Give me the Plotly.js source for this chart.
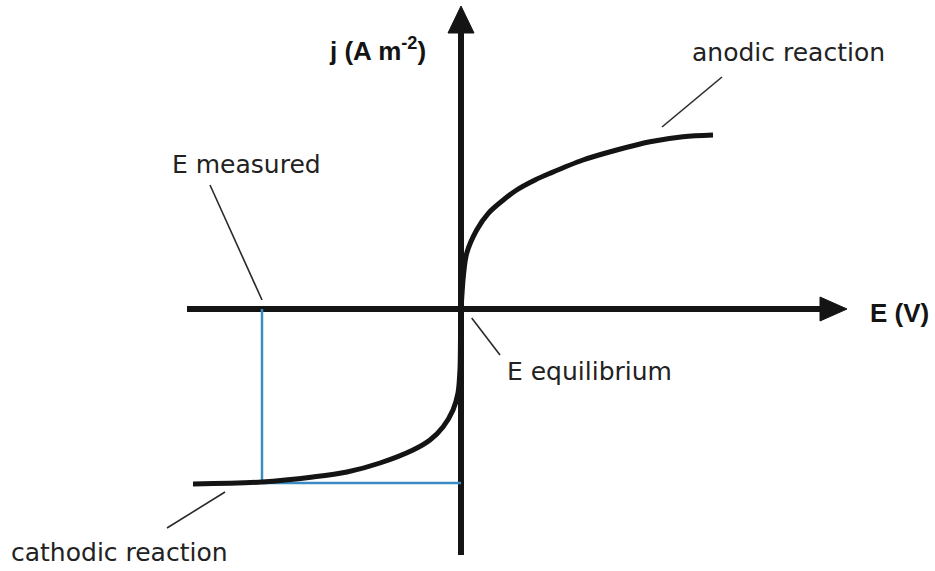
<!DOCTYPE html>
<html>
<head>
<meta charset="utf-8">
<script src="https://cdn.plot.ly/plotly-3.0.1.min.js"></script>
<style>
  html, body { margin: 0; padding: 0; background: #fff; }
  #chart { width: 935px; height: 571px; }
</style>
</head>
<body>
<div id="chart"></div>
<script>
// Polarisation curve: current density j against electrode potential E
// (arbitrary units, origin at the equilibrium potential).
const anodicE = [0, 0.008, 0.023, 0.057, 0.157, 0.273, 0.423, 0.557, 0.74, 0.89, 1.22, 1.557, 1.89, 2.22, 2.52];
const anodicJ = [0, 0.12, 0.32, 0.557, 0.79, 0.957, 1.09, 1.19, 1.29, 1.357, 1.49, 1.59, 1.673, 1.723, 1.74];

const cathodicE = [0, -0.005, -0.01, -0.03, -0.08, -0.18, -0.31, -0.48, -0.81, -1.14, -1.48, -1.99, -2.68];
const cathodicJ = [0, -0.3, -0.6, -0.84, -1.01, -1.18, -1.31, -1.41, -1.54, -1.63, -1.68, -1.73, -1.75];

// Measured operating point on the cathodic branch
const eMeasured = -1.99;
const jMeasured = -1.74;

const labels = {
  jAxis: 'j (A m<sup>-2</sup>)',
  eAxis: 'E (V)',
  eMeasured: 'E measured',
  eEquilibrium: 'E equilibrium',
  anodic: 'anodic reaction',
  cathodic: 'cathodic reaction'
};

const ink = '#141414';
const blue = '#3b8cc2';
const leader = '#2a2a2a';

const traces = [
  { x: [eMeasured, eMeasured], y: [0, jMeasured], mode: 'lines',
    line: { color: blue, width: 2.5 }, hoverinfo: 'skip' },
  { x: [eMeasured, 0], y: [jMeasured, jMeasured], mode: 'lines',
    line: { color: blue, width: 2.5 }, hoverinfo: 'skip' },
  { x: anodicE, y: anodicJ, mode: 'lines',
    line: { color: ink, width: 5, shape: 'spline', smoothing: 0.9 } },
  { x: cathodicE, y: cathodicJ, mode: 'lines',
    line: { color: ink, width: 5, shape: 'spline', smoothing: 0.9 } }
];

function seg(x0, y0, x1, y1, color, width) {
  return { type: 'line', xref: 'x', yref: 'y', x0, y0, x1, y1,
           line: { color, width }, layer: 'below' };
}

const shapes = [
  // axes
  seg(-2.74, 0, 3.70, 0, ink, 6),
  seg(0, -2.46, 0, 2.85, ink, 6),
  // arrowheads
  { type: 'path', xref: 'x', yref: 'y', path: 'M 3.86 0 L 3.59 0.12 L 3.59 -0.12 Z',
    fillcolor: ink, line: { color: ink, width: 1 } },
  { type: 'path', xref: 'x', yref: 'y', path: 'M 0 3.03 L -0.13 2.76 L 0.13 2.76 Z',
    fillcolor: ink, line: { color: ink, width: 1 } },
  // leader lines
  seg(-2.51, 1.24, -1.99, 0.09, leader, 1.6),
  seg(0.107, -0.09, 0.39, -0.46, leader, 1.6),
  seg(2.01, 1.82, 2.61, 2.32, leader, 1.6),
  seg(-2.94, -2.19, -2.36, -1.83, leader, 1.6)
];

const boldFont = { family: 'Liberation Sans, Arial, sans-serif', size: 26, color: ink };
const textFont = { family: 'DejaVu Sans, sans-serif', size: 25, color: '#222' };

function note(text, x, y, font) {
  return { text, x, y, xref: 'x', yref: 'y', showarrow: false,
           xanchor: 'center', yanchor: 'middle', font };
}

const annotations = [
  note('<b>' + labels.jAxis + '</b>', -0.835, 2.60, boldFont),
  note('<b>' + labels.eAxis + '</b>', 4.38, -0.035, boldFont),
  note(labels.eMeasured, -2.145, 1.45, textFont),
  note(labels.eEquilibrium, 1.285, -0.62, textFont),
  note(labels.anodic, 3.275, 2.565, textFont),
  note(labels.cathodic, -3.415, -2.43, textFont)
];

const layout = {
  width: 935, height: 571,
  margin: { l: 0, r: 0, t: 0, b: 0, pad: 0 },
  paper_bgcolor: '#fff', plot_bgcolor: '#fff',
  showlegend: false,
  xaxis: { range: [-4.61, 4.74], visible: false, fixedrange: true },
  yaxis: { range: [-2.62, 3.09], visible: false, fixedrange: true },
  shapes, annotations
};

Plotly.newPlot('chart', traces, layout, { displayModeBar: false, staticPlot: true });
</script>
</body>
</html>
